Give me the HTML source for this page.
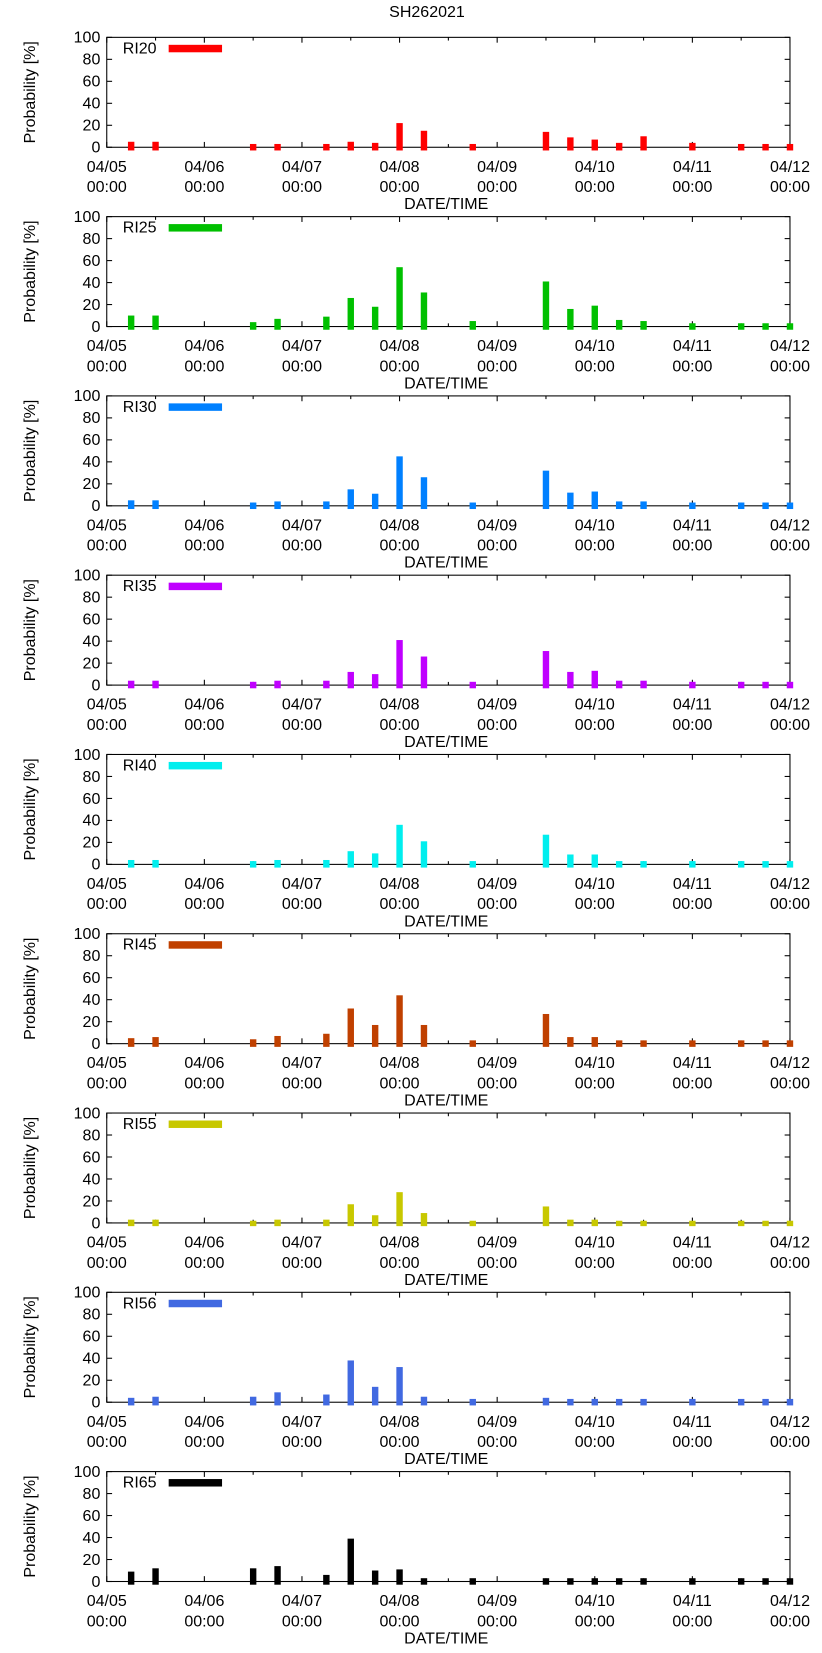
<!DOCTYPE html>
<html><head><meta charset="utf-8"><style>
html,body{margin:0;padding:0;background:#fff;}
svg{display:block;font-family:"Liberation Sans","DejaVu Sans",sans-serif;}
</style></head><body>
<svg id="chart" width="822" height="1653" viewBox="0 0 770 1549" preserveAspectRatio="none" xmlns="http://www.w3.org/2000/svg">
<text x="400" y="16" font-size="15" text-anchor="middle">SH262021</text>
</svg>
<script>
const seriesNames = ["RI20","RI25","RI30","RI35","RI40","RI45","RI55","RI56","RI65"];
const seriesColors = ["#ff0000","#00c000","#0080ff","#c000ff","#00eeee","#c04000","#c8c800","#4169e1","#000000"];
const slots = [1,2,6,7,9,10,11,12,13,15,18,19,20,21,22,24,26,27,28];
const ri20 = [5,5,3,3,3,5,4,22,15,3,14,9,7,4,10,4,3,3,3];
const ri25 = [10,10,4,7,9,26,18,54,31,5,41,16,19,6,5,3,3,3,3];
const ri30 = [5,5,3,4,4,15,11,45,26,3,32,12,13,4,4,3,3,3,3];
const ri35 = [4,4,3,4,4,12,10,41,26,3,31,12,13,4,4,3,3,3,3];
const ri40 = [4,4,3,4,4,12,10,36,21,3,27,9,9,3,3,3,3,3,3];
const ri45 = [5,6,4,7,9,32,17,44,17,3,27,6,6,3,3,3,3,3,3];
const ri55 = [3,3,2,3,3,17,7,28,9,2,15,3,3,2,2,2,2,2,2];
const ri56 = [4,5,5,9,7,38,14,32,5,3,4,3,3,3,3,3,3,3,3];
const ri65 = [9,12,12,14,6,39,10,11,3,3,3,3,3,3,3,3,3,3,3];
const allValues = [ri20,ri25,ri30,ri35,ri40,ri45,ri55,ri56,ri65];
const dayLabels = ["04/05","04/06","04/07","04/08","04/09","04/10","04/11","04/12"];
const yTicks = [0,20,40,60,80,100];

const svg = document.getElementById('chart');
const NS = "http://www.w3.org/2000/svg";
function mk(tag, attrs, parent){
  const e = document.createElementNS(NS, tag);
  for (const k in attrs) e.setAttribute(k, attrs[k]);
  (parent||svg).appendChild(e);
  return e;
}
const X0 = 100, X1 = 740, PH = 103;
const xScale = q => X0 + (X1 - X0) * q / 28;
for (let p = 0; p < 9; p++) {
  const top = 35 + p * 168, bot = top + PH;
  const yScale = v => bot - PH * v / 100;
  const g = mk('g', {});
  
  
  // frame
  const f = mk('rect', {x: X0, y: top, width: X1 - X0, height: PH, fill: 'none', stroke: '#000', 'stroke-width': 1}, g);
  
  
  // y ticks
  yTicks.forEach(t => {
    const y = yScale(t);
    mk('line', {x1: X0, x2: X0 + 5, y1: y, y2: y, stroke: '#000'}, g);
    mk('line', {x1: X1, x2: X1 - 5, y1: y, y2: y, stroke: '#000'}, g);
    const tx = mk('text', {x: 94, y: y + 5, 'font-size': 15, 'text-anchor': 'end'}, g);
    tx.textContent = t;
    
    
  });
  // x ticks
  for (let h = 0; h <= 14; h++) {
    const x = xScale(h * 2);
    const len = h % 2 === 0 ? 5 : 3;
    mk('line', {x1: x, x2: x, y1: bot, y2: bot - len, stroke: '#000'}, g);
    mk('line', {x1: x, x2: x, y1: top, y2: top + len, stroke: '#000'}, g);
  }
  // bars (drawn over ticks)
  allValues[p].forEach((v, i) => {
    const cx = xScale(slots[i]);
    const r = mk('rect', {x: cx - 3, y: yScale(v), width: 6, height: bot + 3 - yScale(v), fill: seriesColors[p]}, g);
    
    
  });
  dayLabels.forEach((d, i) => {
    const x = xScale(i * 4);
    const t1 = mk('text', {x: x, y: bot + 23, 'font-size': 15, 'text-anchor': 'middle'}, g);
    t1.textContent = d;
    
    
    const t2 = mk('text', {x: x, y: bot + 42, 'font-size': 15, 'text-anchor': 'middle'}, g);
    t2.textContent = "00:00";
    
    
  });
  const xt = mk('text', {x: 418, y: bot + 58, 'font-size': 15, 'text-anchor': 'middle'}, g);
  xt.textContent = "DATE/TIME";
  
  
  const yt = mk('text', {x: 0, y: 0, 'font-size': 15, 'text-anchor': 'middle', transform: 'translate(33,' + (top + PH / 2) + ') rotate(-90)'}, g);
  yt.textContent = "Probability [%]";
  
  
  // legend
  const lt = mk('text', {x: 115, y: top + 15, 'font-size': 15}, g);
  lt.textContent = seriesNames[p];
  
  
  const lb = mk('rect', {x: 158, y: top + 7, width: 50, height: 7, fill: seriesColors[p]}, g);
  
  
}
</script>
</body></html>
